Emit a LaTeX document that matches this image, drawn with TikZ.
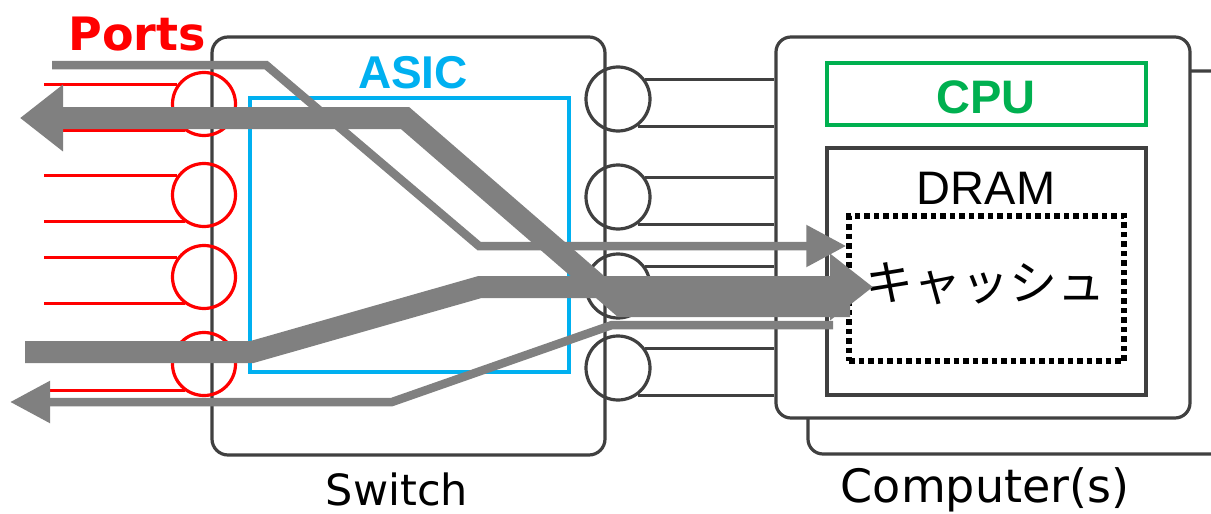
\documentclass[tikz,border=0pt]{standalone}
\usepackage{fontspec}
\setmainfont{DejaVu Sans}
\newfontfamily\arialfont{Liberation Sans}
\newfontfamily\jpfont{Noto Sans CJK JP}
\usetikzlibrary{arrows.meta, positioning, calc}
\definecolor{darkline}{HTML}{404040}
\definecolor{portred}{HTML}{FF0000}
\definecolor{asiccyan}{HTML}{00B0F0}
\definecolor{cpugreen}{HTML}{00B050}
\definecolor{flowgray}{HTML}{808080}

\begin{document}
\begin{tikzpicture}[x=1pt, y=-1pt,
        roundbox/.style={rectangle, rounded corners=16pt, draw=darkline, line width=3.2pt, fill=white},
        plainbox/.style={rectangle, draw=#1, line width=3.2pt},
        redport/.style={circle, draw=portred, line width=3.2pt, minimum size=63pt, inner sep=0pt},
        blkport/.style={circle, draw=darkline, line width=3.2pt, minimum size=64pt, inner sep=0pt},
        redline/.style={draw=portred, line width=3.2pt},
        link/.style={draw=darkline, line width=3.2pt},
        flowthin/.style={draw=flowgray, line width=8.5pt, -{Triangle[length=40pt,width=40pt]}},
        flowthick/.style={draw=flowgray, line width=22pt, -{Triangle[length=43pt,width=64pt]}},
        lbl/.style={inner sep=0pt, anchor=base, font=\fontsize{#1}{#1}\selectfont},
        lbl/.default=42pt
    ]
    \fill[white] (0,0) rectangle (1211,514);
    \useasboundingbox (0,0) rectangle (1211,514);

    % computers
    \node[roundbox, rounded corners=15pt, minimum width=452pt, minimum height=383pt] (pcback) at (1034,262.5) {};
    \node[roundbox, rounded corners=15pt, minimum width=414pt, minimum height=381pt] (pc) at (983,227.5) {};
    \node[plainbox=cpugreen, minimum width=319pt, minimum height=62pt] (cpu) at (986.5,94) {};
    \node[lbl=47pt, font=\arialfont\bfseries\fontsize{47pt}{47pt}\selectfont, text=cpugreen] (cpulbl) at (986,113) {CPU};
    \node[plainbox=darkline, minimum width=319pt, minimum height=247pt] (dram) at (986.5,271.5) {};
    \node[lbl=47pt, font=\arialfont\fontsize{47pt}{47pt}\selectfont] (dramlbl) at (986,204) {DRAM};
    \node[draw=black, line width=5.5pt, dash pattern=on 5.5pt off 4pt, minimum width=275pt, minimum height=145pt] (cache) at (986.5,288.5) {};
    \node[inner sep=0pt, font=\jpfont\fontsize{48pt}{48pt}\selectfont] (cachelbl) at (985,284) {キャッシュ};
    \node[lbl=46pt] (pclbl) at (985,502) {Computer(s)};

    % switch
    \node[roundbox, minimum width=393pt, minimum height=418pt] (sw) at (408.5,246) {};
    \node[plainbox=asiccyan, minimum width=319pt, minimum height=274pt] (asic) at (409.5,235) {};
    \node[lbl=46pt, font=\arialfont\bfseries\fontsize{46pt}{46pt}\selectfont, text=asiccyan] (asiclbl) at (413,88) {ASIC};
    \node[lbl=43pt] (swlbl) at (397,505) {Switch};
    \node[lbl=46pt, font=\bfseries\fontsize{46pt}{46pt}\selectfont, text=portred] (portlbl) at (137,50) {Ports};

    % ports
    \coordinate (lft) at (44,0);
    \foreach \i/\y in {1/104,2/195,3/277,4/364} {
        \node[redport] (p\i) at (204,\y) {};
        \draw[redline] (lft |- p\i.144) -- (p\i.144);
        \draw[redline] (lft |- p\i.234) -- (p\i.234);
    }
    \foreach \i/\y in {1/99,2/197,3/286,4/368} {
        \node[blkport] (q\i) at (618,\y) {};
        \draw[link] (q\i.36) -- (q\i.36 -| pc.west);
        \draw[link] (q\i.-54) -- (q\i.-54 -| pc.west);
    }

    % flows
    \coordinate (f1a) at (52,65);
    \coordinate (f1b) at (266,65);
    \coordinate (f1c) at (479,246);
    \coordinate (f2a) at (850,306);
    \coordinate (f2b) at (622,306);
    \coordinate (f2c) at (405,118);
    \coordinate (f3a) at (25,352);
    \coordinate (f3b) at (252,352);
    \coordinate (f3c) at (480,287);
    \coordinate (f4a) at (833,325);
    \coordinate (f4b) at (612,325);
    \coordinate (f4c) at (392,402);

    \draw[flowthin] (f1a) -- (f1b) -- (f1c) -- (f1c -| cache.west);
    \draw[flowthick] (f2a) -- (f2b) -- (f2c) -- (20,118);
    \draw[flowthick] (f3a) -- (f3b) -- (f3c) -- (873,287);
    \draw[flowthin] (f4a) -- (f4b) -- (f4c) -- (10,402);
\end{tikzpicture}
\end{document}
